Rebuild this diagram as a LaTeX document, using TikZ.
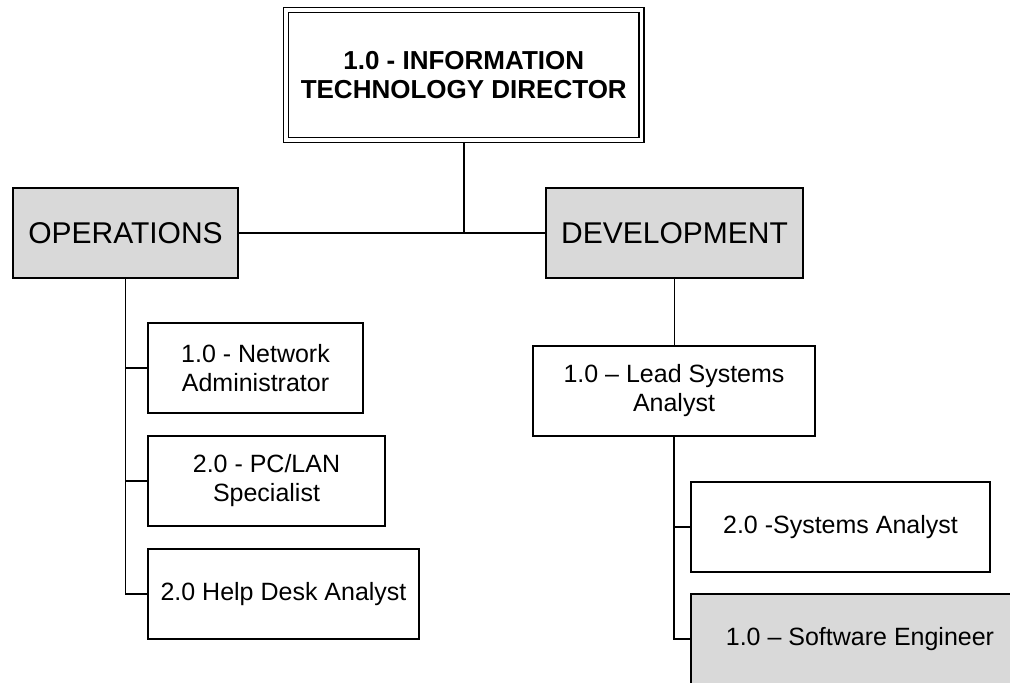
\documentclass[tikz,border=0pt]{standalone}
\usepackage{fontspec}
\setmainfont{Liberation Sans}
\pgfdeclarelayer{background}
\pgfsetlayers{background,main}
\definecolor{deptgray}{RGB}{217,217,217}
\begin{document}
\begin{tikzpicture}[x=1pt,y=1pt,
  box/.style={draw=black, line width=1.5pt, fill=white, inner sep=0pt,
    align=center, font=\fontsize{25}{29}\selectfont},
  dept/.style={box, fill=deptgray, font=\fontsize{30}{34}\selectfont},
  headbox/.style={draw=black, line width=1.4pt, double=white, double distance=3.6pt,
    inner sep=0pt, align=center, font=\fontsize{26}{29.5}\selectfont\bfseries},
  link/.style={draw=black, line width=1.6pt}]
  \useasboundingbox (0,0) rectangle (1010,683);
  \clip (0,0) rectangle (1010,683);

  % director
  \node[headbox, minimum width=355.5pt, minimum height=130pt] (dir) at (463.75,608)
    {1.0 - INFORMATION\\TECHNOLOGY DIRECTOR};

  % departments
  \node[dept, minimum width=225pt, minimum height=90pt] (ops) at (125.5,450) {OPERATIONS};
  \node[dept, minimum width=257pt, minimum height=90pt] (dev) at (674.5,450) {DEVELOPMENT};

  % operations staff
  \node[box, minimum width=215pt, minimum height=90pt] (net) at (255.5,315)
    {1.0 - Network\\Administrator};
  \node[box, minimum width=237pt, minimum height=90pt] (pc) at (266.5,202)
    {2.0 - PC/LAN\\Specialist};
  \node[box, minimum width=271pt, minimum height=90pt] (help) at (283.5,89)
    {2.0 Help Desk Analyst};

  % development staff
  \node[box, minimum width=282pt, minimum height=90pt] (lead) at (674,292)
    {1.0 – Lead Systems\\Analyst};
  \node[box, minimum width=299pt, minimum height=90pt] (sys) at (840.5,156)
    {2.0 -Systems Analyst};
  \node[box, fill=deptgray, minimum width=338pt, minimum height=90pt] (soft) at (860,44)
    {\raisebox{-9pt}{1.0 – Software Engineer}};

  % connectors
  \begin{pgfonlayer}{background}
    \draw[link] (ops.east) -- (dev.west);
    \draw[link] (dir.south) -- (dir.south |- ops.east);
    \draw[link] (ops.south) |- (help.west);
    \draw[link] (ops.south |- net.west) -- (net.west);
    \draw[link] (ops.south |- pc.west) -- (pc.west);
    \draw[link] (dev.south) -- (dev.south |- lead.north);
    \draw[link] (lead.south) |- (soft.west);
    \draw[link] (lead.south |- sys.west) -- (sys.west);
  \end{pgfonlayer}
\end{tikzpicture}
\end{document}
